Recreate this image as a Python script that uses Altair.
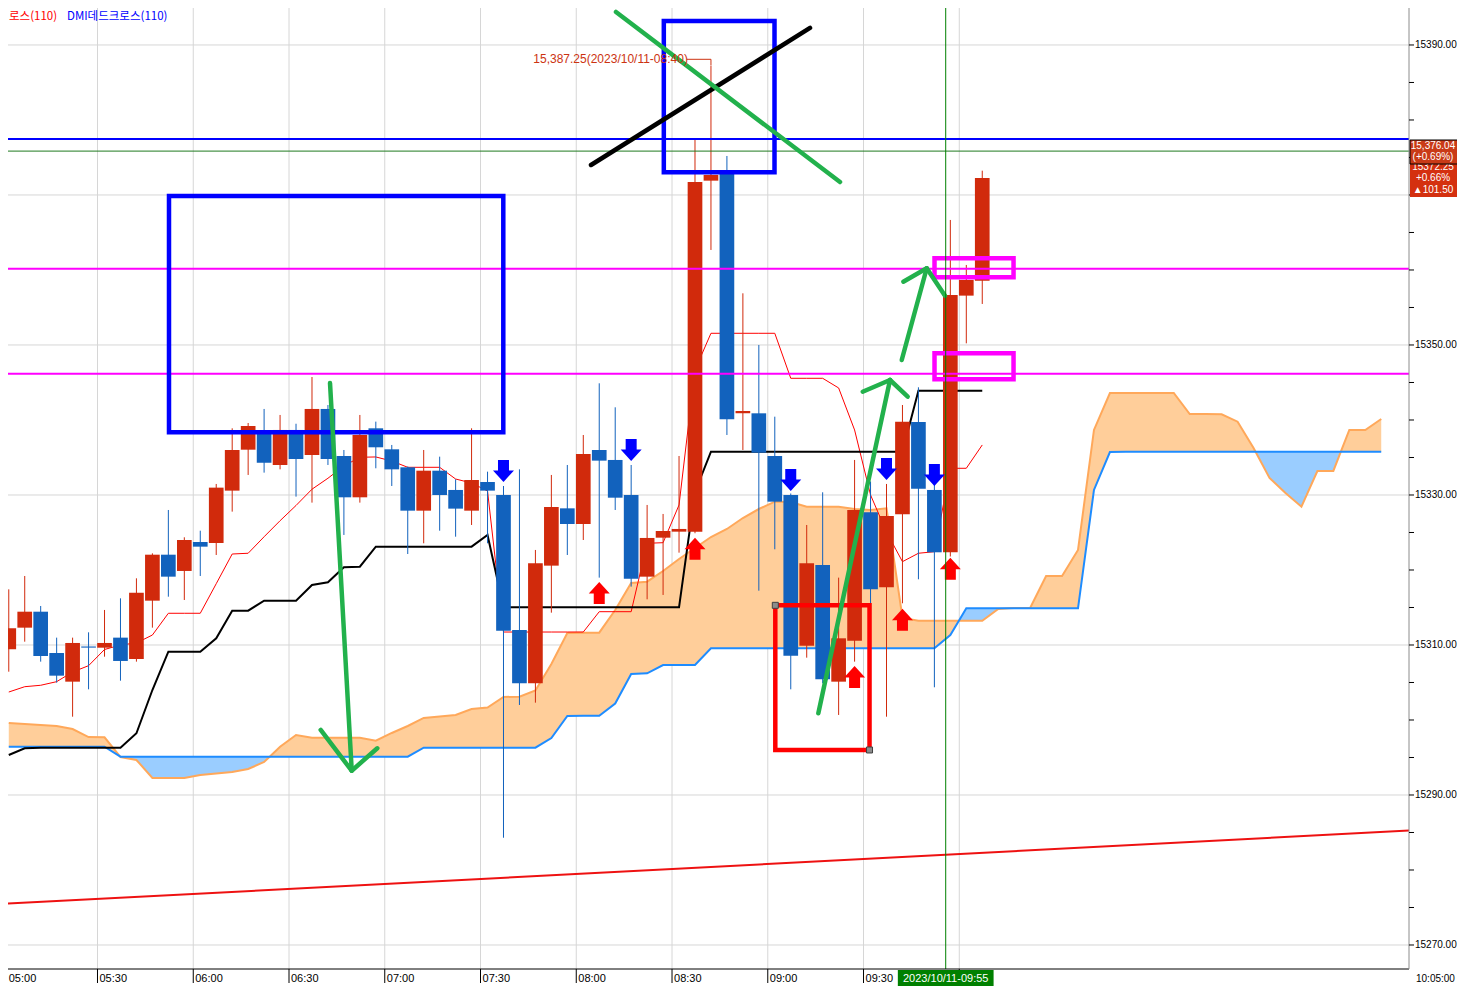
import altair as alt
import pandas as pd

# ---------------- candles: 5-minute bars starting 05:00 ----------------
opens = [15309.42, 15312.31, 15314.44, 15308.93, 15305.11, 15309.80, 15309.64, 15310.98, 15308.13, 15315.91,
         15322.04, 15319.87, 15323.73, 15323.60, 15330.58, 15336.04, 15338.67, 15334.00, 15338.67, 15335.33,
         15341.47, 15335.20, 15329.69, 15338.89, 15336.09, 15333.69, 15327.91, 15333.24, 15330.67, 15327.91,
         15331.73, 15330.00, 15312.00, 15304.89, 15320.58, 15328.22, 15326.13, 15336.00, 15334.67, 15330.00,
         15319.11, 15324.31, 15325.11, 15325.11, 15371.91, 15372.80, 15340.90, 15340.89, 15335.20, 15330.00,
         15309.91, 15320.67, 15305.11, 15310.58, 15327.69, 15317.69, 15327.42, 15339.73, 15330.67, 15322.36,
         15356.58, 15358.58]
highs = [15317.42, 15319.20, 15315.20, 15310.98, 15310.98, 15311.69, 15314.67, 15316.22, 15318.89, 15322.22,
         15328.00, 15324.36, 15325.24, 15331.47, 15338.89, 15339.60, 15341.47, 15340.67, 15339.50, 15345.73,
         15342.00, 15336.00, 15340.67, 15339.78, 15336.67, 15333.80, 15336.00, 15335.11, 15332.09, 15338.89,
         15333.11, 15331.20, 15333.42, 15322.67, 15332.67, 15334.00, 15338.00, 15344.89, 15341.69, 15334.00,
         15328.67, 15327.47, 15335.20, 15377.33, 15387.25, 15375.20, 15356.89, 15350.00, 15340.44, 15330.20,
         15326.00, 15330.36, 15318.98, 15334.67, 15331.80, 15331.47, 15342.00, 15344.36, 15331.50, 15366.67,
         15360.67, 15373.24]
lows = [15306.44, 15310.44, 15307.78, 15304.98, 15300.44, 15304.09, 15308.44, 15305.24, 15307.78, 15312.31,
        15316.44, 15316.00, 15319.20, 15322.00, 15327.78, 15332.67, 15332.98, 15333.42, 15329.78, 15328.98,
        15334.00, 15324.67, 15328.98, 15333.56, 15331.20, 15322.13, 15323.56, 15325.24, 15324.44, 15326.00,
        15323.56, 15284.30, 15302.00, 15302.31, 15314.31, 15322.00, 15324.00, 15318.98, 15328.00, 15317.78,
        15316.09, 15316.67, 15322.31, 15324.90, 15362.67, 15338.00, 15336.00, 15317.24, 15322.76, 15304.09,
        15308.31, 15304.90, 15300.67, 15307.78, 15314.00, 15300.44, 15315.56, 15318.76, 15304.36, 15321.80,
        15350.22, 15355.47]
closes = [15312.22, 15314.44, 15308.53, 15305.91, 15310.27, 15309.65, 15310.27, 15307.87, 15316.98, 15322.04,
          15319.11, 15324.00, 15323.11, 15330.98, 15336.00, 15339.20, 15334.31, 15338.67, 15334.80, 15341.47,
          15334.80, 15329.69, 15338.00, 15336.36, 15333.42, 15327.91, 15333.24, 15330.00, 15328.18, 15332.00,
          15330.58, 15311.91, 15304.89, 15320.89, 15328.40, 15326.13, 15335.47, 15334.58, 15329.64, 15318.84,
          15324.27, 15325.20, 15325.47, 15371.73, 15372.67, 15340.09, 15341.20, 15335.64, 15329.11, 15308.58,
          15320.89, 15305.42, 15310.89, 15328.00, 15317.42, 15327.20, 15339.78, 15330.84, 15322.36, 15356.67,
          15358.67, 15372.25]

# ---------------- ichimoku lines ----------------
tenkan = [15303.73, 15304.44, 15304.63, 15305.11, 15306.40, 15307.24, 15309.40, 15310.00, 15310.27, 15311.33,
          15314.23, 15314.23, 15314.23, 15318.17, 15322.13, 15322.23, 15324.43, 15326.57, 15328.60, 15330.77,
          15332.23, 15333.87, 15335.03, 15335.07, 15334.53, 15333.69, 15333.69, 15333.69, 15332.13, 15331.60,
          15330.53, 15311.73, 15311.73, 15311.73, 15311.73, 15311.73, 15311.73, 15314.44, 15314.44, 15314.44,
          15323.56, 15323.64, 15328.67, 15346.67, 15351.56, 15351.56, 15351.56, 15351.56, 15351.56, 15345.56,
          15345.56, 15345.56, 15344.27, 15338.67, 15330.00, 15325.07, 15321.11, 15322.23, 15322.44, 15333.56,
          15333.56, 15336.67]
kijun = [15295.33, 15296.23, 15296.31, 15296.31, 15296.31, 15296.31, 15296.31, 15296.31, 15298.23, 15304.00,
         15309.11, 15309.11, 15309.11, 15310.89, 15314.57, 15314.57, 15315.91, 15315.91, 15315.91, 15318.00,
         15318.36, 15320.36, 15320.44, 15323.11, 15323.11, 15323.11, 15323.11, 15323.11, 15323.11, 15323.11,
         15324.67, 15315.03, 15315.03, 15315.03, 15315.03, 15315.03, 15315.03, 15315.03, 15315.03, 15315.03,
         15315.03, 15315.03, 15315.03, 15330.40, 15335.77, 15335.77, 15335.77, 15335.77, 15335.77, 15335.77,
         15335.77, 15335.77, 15335.77, 15335.77, 15335.77, 15335.77, 15335.77, 15343.91, 15343.91, 15343.91,
         15343.91, 15343.91]
span_a = [15299.60, 15299.47, 15299.33, 15299.20, 15298.80, 15297.73, 15297.69, 15295.07, 15294.67, 15292.27,
          15292.27, 15292.27, 15292.67, 15292.87, 15293.07, 15293.47, 15294.40, 15296.44, 15298.00, 15297.64,
          15297.64, 15297.64, 15297.64, 15297.24, 15298.27, 15299.20, 15300.27, 15300.47, 15300.67, 15301.47,
          15301.67, 15303.07, 15303.11, 15303.93, 15307.47, 15311.60, 15311.64, 15311.64, 15314.67, 15318.27,
          15318.44, 15319.87, 15321.47, 15322.93, 15324.40, 15325.47, 15326.93, 15328.13, 15329.11, 15329.07,
          15328.44, 15328.44, 15328.44, 15328.13, 15328.00, 15328.23, 15313.60, 15313.24, 15313.24, 15313.24,
          15313.24, 15313.24, 15314.80, 15314.93, 15314.93, 15319.20, 15319.20, 15322.67, 15338.67, 15343.60,
          15343.60, 15343.60, 15343.60, 15343.60, 15340.80, 15340.80, 15340.76, 15339.77, 15336.27, 15332.27,
          15330.27, 15328.44, 15333.20, 15333.20, 15338.67, 15338.67, 15340.13]
span_b = [15296.44, 15296.44, 15296.44, 15296.44, 15296.44, 15296.44, 15296.44, 15295.11, 15295.11, 15295.11,
          15295.11, 15295.11, 15295.11, 15295.11, 15295.11, 15295.11, 15295.11, 15295.11, 15295.11, 15295.11,
          15295.11, 15295.11, 15295.11, 15295.11, 15295.11, 15295.11, 15296.31, 15296.31, 15296.31, 15296.31,
          15296.31, 15296.31, 15296.31, 15296.31, 15297.60, 15300.53, 15300.57, 15300.57, 15302.20, 15306.13,
          15306.23, 15307.33, 15307.33, 15307.33, 15309.56, 15309.56, 15309.56, 15309.56, 15309.56, 15309.56,
          15309.56, 15309.56, 15309.56, 15309.56, 15309.56, 15309.56, 15309.56, 15309.56, 15309.56, 15311.33,
          15314.89, 15314.89, 15314.89, 15314.89, 15314.89, 15314.89, 15314.89, 15314.89, 15330.67, 15335.73,
          15335.77, 15335.77, 15335.77, 15335.77, 15335.77, 15335.77, 15335.77, 15335.77, 15335.77, 15335.77,
          15335.77, 15335.77, 15335.77, 15335.77, 15335.77, 15335.77, 15335.77]

# ---------------- signal arrows (bar index, price) ----------------
down_idx = [31, 39, 49, 55, 58]
down_price = [15333.20, 15336.00, 15332.00, 15333.47, 15332.67]
up_idx = [37, 43, 53, 56, 59]
up_price = [15316.93, 15322.84, 15305.73, 15313.37, 15320.17]

# ---------------- horizontal / trend lines ----------------
hline_price = [15377.47, 15375.85, 15360.17, 15346.17]
hline_color = ["#0000FF", "#1F7A1F", "#FF00FF", "#FF00FF"]
hline_width = [2, 1, 2, 2]
trend_t = [0.0, 441.0]
trend_price = [15275.48, 15285.27]
cross_t = [295.75]

# ---------------- drawn annotations (minutes after 05:00, price) ----------------
box_t1 = [52.40, 207.43, 242.36, 292.24, 292.24]
box_t2 = [157.14, 242.11, 271.88, 317.00, 317.00]
box_p1 = [15369.87, 15393.20, 15315.29, 15361.57, 15348.91]
box_p2 = [15338.36, 15373.04, 15296.00, 15359.04, 15345.44]
box_col = ["#0000FF", "#0000FF", "#FF0000", "#FF00FF", "#FF00FF"]

seg_t1 = [184.62, 102.85, 99.93, 109.64, 255.84, 269.74, 278.30, 281.97, 282.47, 289.80, 192.45]
seg_p1 = [15374.00, 15344.93, 15298.67, 15293.24, 15300.89, 15343.77, 15345.33, 15348.00, 15358.44, 15360.23, 15394.40]
seg_t2 = [253.24, 109.64, 109.64, 117.66, 278.30, 278.30, 283.84, 289.80, 289.80, 295.53, 262.63]
seg_p2 = [15392.27, 15293.33, 15293.24, 15296.23, 15345.33, 15345.33, 15343.11, 15360.23, 15360.23, 15356.57, 15371.73]
seg_col = ["#000000", "#22B14C", "#22B14C", "#22B14C", "#22B14C", "#22B14C", "#22B14C",
           "#22B14C", "#22B14C", "#22B14C", "#22B14C"]
handle_t = [242.36, 271.88]
handle_p = [15315.29, 15296.00]

# ---------------- axis ticks / labels ----------------
x_tick_t = [30, 60, 90, 120, 150, 180, 210, 240, 270, 300]
x_label_t = [30, 60, 90, 120, 150, 180, 210, 240, 270]
x_label = ["05:30", "06:00", "06:30", "07:00", "07:30", "08:00", "08:30", "09:00", "09:30"]
x_grid_t = [0, 30, 60, 90, 120, 150, 180, 210, 240, 270, 300]
y_minor = [15270 + 5 * k for k in range(25)]
y_grid = [15270, 15290, 15310, 15330, 15350, 15370, 15390]
y_label_p = [15270, 15290, 15310, 15330, 15350, 15390]
y_label = ["15270.00", "15290.00", "15310.00", "15330.00", "15350.00", "15390.00"]

W, H = 1401, 961
xs = alt.Scale(domain=[1.96, 440.9], nice=False, zero=False)
ys = alt.Scale(domain=[15266.8, 15394.93], nice=False, zero=False)
FONT = "Liberation Sans"


def X(f):
    return alt.X(f, type="quantitative", scale=xs, axis=None)


def Y(f):
    return alt.Y(f, type="quantitative", scale=ys, axis=None)


# candles table
n = len(opens)
cd = pd.DataFrame({"i": list(range(n)), "o": opens, "h": highs, "l": lows, "c": closes})
cd["t"] = cd["i"] * 5 + 2.2
cd["x1"] = cd["i"] * 5 - 0.1
cd["x2"] = cd["i"] * 5 + 4.5
cd["col"] = ["#D12A0C" if c >= o else "#1262BD" for o, c in zip(opens, closes)]

# cloud table with crossing points inserted
pts = []
for i in range(len(span_a)):
    t = 5 * i + 2.2
    pts.append((t, span_a[i], span_b[i]))
    if i + 1 < len(span_a):
        d0 = span_a[i] - span_b[i]
        d1 = span_a[i + 1] - span_b[i + 1]
        if d0 * d1 < 0:
            f = d0 / (d0 - d1)
            vc = span_a[i] + (span_a[i + 1] - span_a[i]) * f
            pts.append((t + 5 * f, vc, vc))
cloud = pd.DataFrame(pts, columns=["t", "a", "b"])
cloud["lo"] = cloud[["a", "b"]].min(axis=1)

lines_df = pd.DataFrame({"t": [5 * i + 2.2 for i in range(n)], "tenkan": tenkan, "kijun": kijun})

layers = []

# grid
layers.append(alt.Chart(pd.DataFrame({"t": x_grid_t})).mark_rule(color="#D6D6D6", strokeWidth=1, clip=True)
              .encode(x=X("t")))
layers.append(alt.Chart(pd.DataFrame({"p": y_grid})).mark_rule(color="#D6D6D6", strokeWidth=1, clip=True)
              .encode(y=Y("p")))

# cloud fills and lines
layers.append(alt.Chart(cloud).mark_area(color="#FFCE9A", opacity=1, clip=True)
              .encode(x=X("t"), y=Y("a"), y2=alt.Y2("lo")))
layers.append(alt.Chart(cloud).mark_area(color="#9ACDFF", opacity=1, clip=True)
              .encode(x=X("t"), y=Y("b"), y2=alt.Y2("lo")))
layers.append(alt.Chart(cloud).mark_line(color="#FFA85A", strokeWidth=2, clip=True)
              .encode(x=X("t"), y=Y("a"), order="t:Q"))
layers.append(alt.Chart(cloud).mark_line(color="#1E8CFF", strokeWidth=2, clip=True)
              .encode(x=X("t"), y=Y("b"), order="t:Q"))

# conversion / base lines
layers.append(alt.Chart(lines_df).mark_line(color="#FF0000", strokeWidth=1, clip=True)
              .encode(x=X("t"), y=Y("tenkan"), order="t:Q"))
layers.append(alt.Chart(lines_df).mark_line(color="#000000", strokeWidth=2, clip=True)
              .encode(x=X("t"), y=Y("kijun"), order="t:Q"))

# wicks and bodies
layers.append(alt.Chart(cd).mark_rule(strokeWidth=1, clip=True)
              .encode(x=X("t"), y=Y("l"), y2=alt.Y2("h"), color=alt.Color("col:N", scale=None)))
layers.append(alt.Chart(cd).mark_rect(clip=True)
              .encode(x=X("x1"), x2=alt.X2("x2"), y=Y("o"), y2=alt.Y2("c"),
                      color=alt.Color("col:N", scale=None)))

# horizontal lines, trend line
hl = pd.DataFrame({"p": hline_price, "col": hline_color, "w": hline_width})
layers.append(alt.Chart(hl).mark_rule(clip=True)
              .encode(y=Y("p"), color=alt.Color("col:N", scale=None),
                      strokeWidth=alt.StrokeWidth("w:Q", scale=None)))
tr = pd.DataFrame({"t1": [trend_t[0]], "t2": [trend_t[1]], "p1": [trend_price[0]], "p2": [trend_price[1]]})
layers.append(alt.Chart(tr).mark_rule(color="#EE1111", strokeWidth=2, clip=True)
              .encode(x=X("t1"), x2=alt.X2("t2"), y=Y("p1"), y2=alt.Y2("p2")))

# boxes
bx = pd.DataFrame({"t1": box_t1, "t2": box_t2, "p1": box_p1, "p2": box_p2, "col": box_col})
layers.append(alt.Chart(bx).mark_rect(filled=False, strokeWidth=4.5, clip=True)
              .encode(x=X("t1"), x2=alt.X2("t2"), y=Y("p1"), y2=alt.Y2("p2"),
                      stroke=alt.Stroke("col:N", scale=None)))

# drawn strokes
sg = pd.DataFrame({"t1": seg_t1, "t2": seg_t2, "p1": seg_p1, "p2": seg_p2, "col": seg_col})
layers.append(alt.Chart(sg).mark_rule(strokeWidth=4.5, strokeCap="round", clip=True)
              .encode(x=X("t1"), x2=alt.X2("t2"), y=Y("p1"), y2=alt.Y2("p2"),
                      color=alt.Color("col:N", scale=None)))

# handles
hd = pd.DataFrame({"t": handle_t, "p": handle_p})
layers.append(alt.Chart(hd).mark_square(size=36, filled=True, color="#8C8C8C", stroke="#404040",
                                        strokeWidth=1, opacity=1)
              .encode(x=X("t"), y=Y("p")))

# signal arrows
DOWN = "M-0.55,-1.1L0.55,-1.1L0.55,-0.05L1.05,-0.05L0,1.1L-1.05,-0.05L-0.55,-0.05Z"
UP = "M-0.55,1.1L0.55,1.1L0.55,0.05L1.05,0.05L0,-1.1L-1.05,0.05L-0.55,0.05Z"
dn = pd.DataFrame({"t": [5 * i + 2.2 for i in down_idx], "p": down_price})
upd = pd.DataFrame({"t": [5 * i + 2.2 for i in up_idx], "p": up_price})
layers.append(alt.Chart(dn).mark_point(shape=DOWN, size=400, filled=True, color="#0000FF", opacity=1,
                                       strokeWidth=0)
              .encode(x=X("t"), y=Y("p")))
layers.append(alt.Chart(upd).mark_point(shape=UP, size=400, filled=True, color="#FF0000", opacity=1,
                                        strokeWidth=0)
              .encode(x=X("t"), y=Y("p")))

# crosshair
layers.append(alt.Chart(pd.DataFrame({"t": cross_t})).mark_rule(color="#008000", strokeWidth=1)
              .encode(x=X("t")))

# high label
hi = pd.DataFrame({"t": [166.54], "p": [15388.09], "s": ["15,387.25(2023/10/11-08:40)"]})
layers.append(alt.Chart(hi).mark_text(align="left", baseline="middle", font=FONT, fontSize=12,
                                      color="#CC3311")
              .encode(x=X("t"), y=Y("p"), text="s:N"))
ld = pd.DataFrame({"t1": [214.6, 222.2], "t2": [222.2, 222.2], "p1": [15388.09, 15388.09],
                   "p2": [15388.09, 15387.30]})
layers.append(alt.Chart(ld).mark_rule(color="#CC3311", strokeWidth=1)
              .encode(x=X("t1"), x2=alt.X2("t2"), y=Y("p1"), y2=alt.Y2("p2")))

# ---------------- axes drawn as marks ----------------
layers.append(alt.Chart(pd.DataFrame({"k": [0]})).mark_rule(color="#000000", strokeWidth=1)
              .encode(x=alt.value(0), x2=alt.value(W), y=alt.value(H)))
layers.append(alt.Chart(pd.DataFrame({"t": x_tick_t})).mark_rule(color="#000000", strokeWidth=1)
              .encode(x=X("t"), y=alt.value(H), y2=alt.value(H + 14)))
layers.append(alt.Chart(pd.DataFrame({"t": x_label_t, "s": x_label})).mark_text(
    align="left", baseline="top", dx=2, font=FONT, fontSize=11, color="#000000")
    .encode(x=X("t"), y=alt.value(H + 4), text="s:N"))
layers.append(alt.Chart(pd.DataFrame({"t": [0.0], "s": ["05:00"]})).mark_text(align="left", baseline="top",
                                                                             dx=7, font=FONT, fontSize=11,
                                                                             color="#000000")
              .encode(x=X("t"), y=alt.value(H + 4), text="s:N"))
layers.append(alt.Chart(pd.DataFrame({"k": [0]})).mark_rule(color="#8C8C8C", strokeWidth=1)
              .encode(x=alt.value(W), y=alt.value(0), y2=alt.value(H)))
layers.append(alt.Chart(pd.DataFrame({"p": y_minor})).mark_rule(color="#000000", strokeWidth=1)
              .encode(y=Y("p"), x=alt.value(W), x2=alt.value(W + 5)))
layers.append(alt.Chart(pd.DataFrame({"p": y_label_p, "s": y_label})).mark_text(
    align="left", baseline="middle", font=FONT, fontSize=10, color="#000000")
    .encode(y=Y("p"), x=alt.value(W + 6), text="s:N"))

# right-side price tags
tag2 = pd.DataFrame({"p1": [15374.67], "p2": [15369.73]})
layers.append(alt.Chart(tag2).mark_rect(color="#D4300F")
              .encode(x=alt.value(W + 1), x2=alt.value(W + 51), y=Y("p1"), y2=alt.Y2("p2")))
tag2_txt = pd.DataFrame({"p": [15373.70, 15372.20, 15370.62], "s": ["15372.25", "+0.66%", "▲101.50"]})
layers.append(alt.Chart(tag2_txt).mark_text(align="center", baseline="middle", font=FONT, fontSize=10,
                                            color="#FFFFFF")
              .encode(x=alt.value(W + 24), y=Y("p"), text="s:N"))
tag1 = pd.DataFrame({"p1": [15377.33], "p2": [15374.13]})
layers.append(alt.Chart(tag1).mark_rect(color="#C93A17", stroke="#000000", strokeWidth=1)
              .encode(x=alt.value(W + 1), x2=alt.value(W + 51), y=Y("p1"), y2=alt.Y2("p2")))
tag1_txt = pd.DataFrame({"p": [15376.53, 15375.05], "s": ["15,376.04", "(+0.69%)"]})
layers.append(alt.Chart(tag1_txt).mark_text(align="center", baseline="middle", font=FONT, fontSize=10,
                                            color="#FFFFFF")
              .encode(x=alt.value(W + 24), y=Y("p"), text="s:N"))

# crosshair time box and last time
cb = pd.DataFrame({"t1": [cross_t[0] - 15.0], "t2": [cross_t[0] + 15.0], "t": cross_t,
                   "s": ["2023/10/11-09:55"]})
layers.append(alt.Chart(cb).mark_rect(color="#008000")
              .encode(x=X("t1"), x2=alt.X2("t2"), y=alt.value(H + 1), y2=alt.value(H + 19)))
layers.append(alt.Chart(cb).mark_text(align="center", baseline="middle", font=FONT, fontSize=11,
                                      color="#FFFFFF")
              .encode(x=X("t"), y=alt.value(H + 10), text="s:N"))
layers.append(alt.Chart(pd.DataFrame({"s": ["10:05:00"]})).mark_text(align="left", baseline="middle",
                                                                    font=FONT, fontSize=10,
                                                                    color="#000000")
              .encode(x=alt.value(W + 7), y=alt.value(H + 10), text="s:N"))

# indicator legend at top-left
layers.append(alt.Chart(pd.DataFrame({"s": ["로스(110)"]})).mark_text(align="left", baseline="middle",
                                                                   font="Noto Sans CJK KR", fontSize=11.5,
                                                                   color="#FF0000")
              .encode(x=alt.value(1), y=alt.value(9), text="s:N"))
layers.append(alt.Chart(pd.DataFrame({"s": ["DMI데드크로스(110)"]})).mark_text(align="left", baseline="middle",
                                                                          font="Noto Sans CJK KR", fontSize=11.5,
                                                                          color="#0000FF")
              .encode(x=alt.value(59), y=alt.value(9), text="s:N"))

chart = alt.layer(*layers).properties(
    width=W, height=H,
    autosize=alt.AutoSizeParams(type="none"),
    padding={"left": 0, "top": 0, "right": 48, "bottom": 17},
).configure_view(strokeWidth=0)

chart.save("out.html", embed_options={"renderer": "svg", "actions": False})
